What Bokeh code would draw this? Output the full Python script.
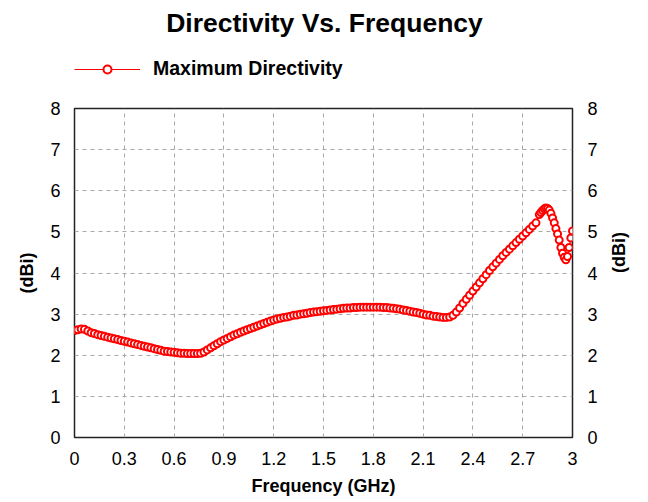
from bokeh.plotting import figure
from bokeh.models import LinearAxis, Range1d, Legend, Label, FixedTicker
from bokeh.layouts import column
from bokeh.embed import file_html
from bokeh.resources import INLINE
import math

freq_ghz = [0.00, 0.02, 0.04, 0.06, 0.08, 0.10, 0.12, 0.14, 0.16, 0.18,
            0.20, 0.22, 0.24, 0.26, 0.28, 0.30, 0.32, 0.34, 0.36, 0.38,
            0.40, 0.42, 0.44, 0.46, 0.48, 0.50, 0.52, 0.54, 0.56, 0.58,
            0.60, 0.62, 0.64, 0.66, 0.68, 0.70, 0.72, 0.74, 0.76, 0.78,
            0.80, 0.82, 0.84, 0.86, 0.88, 0.90, 0.92, 0.94, 0.96, 0.98,
            1.00, 1.02, 1.04, 1.06, 1.08, 1.10, 1.12, 1.14, 1.16, 1.18,
            1.20, 1.22, 1.24, 1.26, 1.28, 1.30, 1.32, 1.34, 1.36, 1.38,
            1.40, 1.42, 1.44, 1.46, 1.48, 1.50, 1.52, 1.54, 1.56, 1.58,
            1.60, 1.62, 1.64, 1.66, 1.68, 1.70, 1.72, 1.74, 1.76, 1.78,
            1.80, 1.82, 1.84, 1.86, 1.88, 1.90, 1.92, 1.94, 1.96, 1.98,
            2.00, 2.02, 2.04, 2.06, 2.08, 2.10, 2.12, 2.14, 2.16, 2.18,
            2.20, 2.22, 2.24, 2.26, 2.28, 2.30, 2.32, 2.34, 2.36, 2.38,
            2.40, 2.42, 2.44, 2.46, 2.48, 2.50, 2.52, 2.54, 2.56, 2.58,
            2.60, 2.62, 2.64, 2.66, 2.68, 2.70, 2.72, 2.74, 2.76, 2.78,
            2.80, 2.81, 2.82, 2.83, 2.84, 2.85, 2.86, 2.87, 2.88, 2.89,
            2.90, 2.91, 2.92, 2.93, 2.94, 2.95, 2.96, 2.97, 2.98, 2.99,
            3.00]

directivity_dbi = [2.60, 2.62, 2.64, 2.63, 2.59, 2.55, 2.53, 2.50, 2.48, 2.46,
                   2.44, 2.42, 2.40, 2.38, 2.36, 2.34, 2.32, 2.30, 2.28, 2.26,
                   2.24, 2.22, 2.20, 2.18, 2.16, 2.14, 2.12, 2.10, 2.09, 2.08,
                   2.07, 2.06, 2.05, 2.05, 2.04, 2.04, 2.04, 2.04, 2.05, 2.08,
                   2.13, 2.18, 2.23, 2.28, 2.33, 2.37, 2.41, 2.45, 2.49, 2.52,
                   2.56, 2.59, 2.62, 2.65, 2.68, 2.71, 2.74, 2.77, 2.80, 2.83,
                   2.86, 2.88, 2.90, 2.92, 2.93, 2.95, 2.97, 2.98, 3.00, 3.01,
                   3.02, 3.04, 3.05, 3.06, 3.07, 3.08, 3.09, 3.10, 3.11, 3.12,
                   3.13, 3.14, 3.15, 3.15, 3.16, 3.16, 3.17, 3.17, 3.17, 3.17,
                   3.17, 3.17, 3.17, 3.16, 3.16, 3.15, 3.14, 3.13, 3.12, 3.10,
                   3.09, 3.07, 3.05, 3.04, 3.02, 3.00, 2.98, 2.97, 2.95, 2.94,
                   2.93, 2.92, 2.92, 2.93, 2.97, 3.05, 3.15, 3.26, 3.36, 3.46,
                   3.56, 3.66, 3.76, 3.86, 3.96, 4.06, 4.15, 4.24, 4.33, 4.42,
                   4.50, 4.58, 4.66, 4.74, 4.82, 4.90, 4.98, 5.06, 5.14, 5.22,
                   5.42, 5.47, 5.52, 5.56, 5.58, 5.57, 5.53, 5.45, 5.34, 5.22,
                   5.08, 4.95, 4.80, 4.62, 4.48, 4.38, 4.32, 4.40, 4.62, 4.85,
                   5.02]

x_ticks = [0, 0.3, 0.6, 0.9, 1.2, 1.5, 1.8, 2.1, 2.4, 2.7, 3.0]
x_tick_labels = {0: "0", 0.3: "0.3", 0.6: "0.6", 0.9: "0.9", 1.2: "1.2", 1.5: "1.5",
                 1.8: "1.8", 2.1: "2.1", 2.4: "2.4", 2.7: "2.7", 3.0: "3"}
y_ticks = [0, 1, 2, 3, 4, 5, 6, 7, 8]

title_text = "Directivity Vs. Frequency"
series_name = "Maximum Directivity"

FONT = "Liberation Sans"
RED = "#ff0000"
MARKER = dict(marker="circle", size=7, line_color=RED, fill_color="white",
              line_width=2)

# ---------- header (title + legend); its frame is aligned with the chart's ----------
head = figure(width=648, height=100, output_backend="svg", toolbar_location=None,
              x_axis_type=None, y_axis_type=None, min_border=0,
              x_range=Range1d(0, 3), y_range=Range1d(-2, -1))
head.outline_line_color = None
head.xgrid.visible = False
head.ygrid.visible = False
# same series (falls outside this header's y range, used only for the legend sample)
hl = head.line(freq_ghz, directivity_dbi, line_color=RED, line_width=1)
hs = head.scatter(freq_ghz, directivity_dbi, **MARKER)
head.add_layout(Label(x=250, y=78, x_units="screen", y_units="screen",
                      text=title_text, text_font=FONT, text_font_size="26.5px",
                      text_font_style="bold", text_align="center",
                      text_baseline="middle", text_color="black"))
legend = Legend(items=[(series_name, [hl, hs])],
                location=(0, 20), orientation="horizontal",
                glyph_width=66, glyph_height=20, label_height=20,
                label_standoff=13, padding=0, margin=0, spacing=0,
                border_line_color=None, background_fill_alpha=0,
                label_text_font=FONT, label_text_font_size="19.5px",
                label_text_font_style="bold", label_text_color="black")
head.add_layout(legend, "center")

# ---------- main chart ----------
p = figure(width=648, height=402, output_backend="svg", toolbar_location=None,
           x_range=Range1d(0, 3), y_range=Range1d(0, 8),
           min_border_left=74, min_border_right=76, min_border_top=8,
           min_border_bottom=65)

p.line(freq_ghz, directivity_dbi, line_color=RED, line_width=1)
p.scatter(freq_ghz, directivity_dbi, **MARKER)

p.outline_line_color = "#222222"
p.outline_line_width = 1.5


def style_axis(ax, label_standoff, axis_standoff):
    ax.axis_line_color = None
    ax.major_tick_line_color = None
    ax.minor_tick_line_color = None
    ax.major_tick_out = 0
    ax.major_tick_in = 0
    ax.minor_tick_out = 0
    ax.minor_tick_in = 0
    ax.major_label_text_font = FONT
    ax.major_label_text_font_size = "18px"
    ax.major_label_text_color = "black"
    ax.axis_label_text_font = FONT
    ax.axis_label_text_font_size = "18px"
    ax.axis_label_text_font_style = "bold"
    ax.axis_label_text_color = "black"
    ax.major_label_standoff = label_standoff
    ax.axis_label_standoff = axis_standoff


p.xaxis.ticker = FixedTicker(ticks=x_ticks)
p.xaxis.major_label_overrides = x_tick_labels
p.xaxis.axis_label = "Frequency (GHz)"
style_axis(p.xaxis[0], 14, 8)

p.yaxis.ticker = FixedTicker(ticks=y_ticks)
p.yaxis.axis_label = "(dBi)"
style_axis(p.yaxis[0], 14, 10)

ry = LinearAxis(ticker=FixedTicker(ticks=y_ticks), axis_label="(dBi)")
style_axis(ry, 15, 18)
ry.axis_label_orientation = math.pi / 2
p.add_layout(ry, "right")

p.xgrid.ticker = FixedTicker(ticks=x_ticks)
p.ygrid.ticker = FixedTicker(ticks=y_ticks)
for g in [p.xgrid[0], p.ygrid[0]]:
    g.grid_line_color = "#a8a8a8"
    g.grid_line_dash = "4 4"
    g.grid_line_width = 1

page = column(head, p, spacing=0)
open("out.html", "w").write(file_html(page, INLINE))
